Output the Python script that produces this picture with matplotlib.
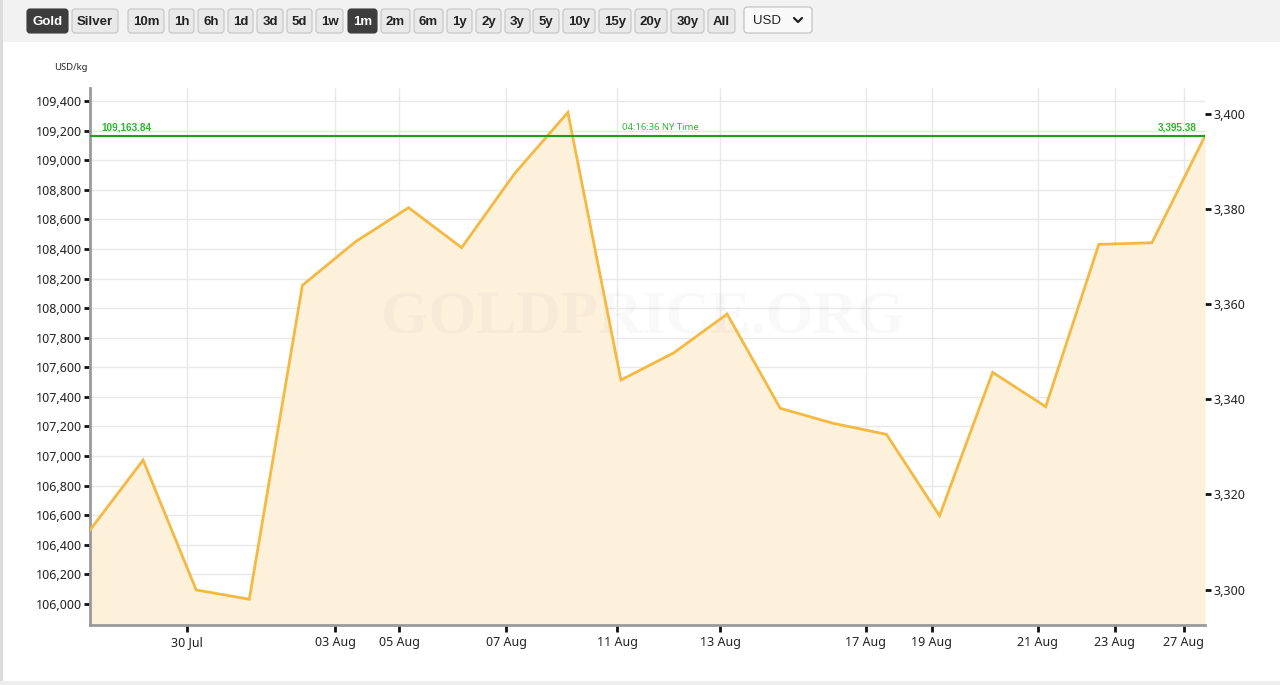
import numpy as np
import matplotlib
matplotlib.use("Agg")
import matplotlib.pyplot as plt
from matplotlib.patches import FancyBboxPatch, Rectangle
from matplotlib.ticker import FuncFormatter, MultipleLocator

# gold price, USD/kg, one point per trading day (evenly spaced on the chart)
prices = [106500, 106973, 106095, 106032, 108154, 108449, 108679, 108409,
          108911, 109323, 107514, 107699, 107960, 107323, 107221, 107147,
          106597, 107566, 107334, 108431, 108442, 109163.84]
tick_labels = ['30 Jul', '03 Aug', '05 Aug', '07 Aug', '11 Aug', '13 Aug',
               '17 Aug', '19 Aug', '21 Aug', '23 Aug', '27 Aug']
tick_pos = [1.83, 4.62, 5.82, 7.84, 9.93, 11.87, 14.61, 15.85, 17.85, 19.30, 20.60]
oz_ticks = [3300, 3320, 3340, 3360, 3380, 3400]
last_kg = 109163.84
last_oz = 3395.38
oz_per_kg = last_kg / last_oz
buttons = ['Gold', 'Silver', '10m', '1h', '6h', '1d', '3d', '5d', '1w', '1m', '2m',
           '6m', '1y', '2y', '3y', '5y', '10y', '15y', '20y', '30y', 'All']
selected = ['Gold', '1m']
btn_x = [(27, 68), (72, 118), (128, 164), (169, 194), (198, 224), (228, 253),
         (257, 283), (287, 312), (316, 343), (348, 377), (381, 410), (414, 443),
         (447, 472), (476, 501), (505, 530), (533, 559), (563, 595), (599, 631),
         (635, 667), (671, 704), (708, 735)]

W, H = 1280, 685
fig = plt.figure(figsize=(W / 100, H / 100), dpi=100)
fig.patch.set_facecolor('white')

# background layer in pixel coords (toolbar, frame)
bg = fig.add_axes([0, 0, 1, 1], zorder=0)
bg.set_xlim(0, W)
bg.set_ylim(H, 0)
bg.axis('off')
bg.add_patch(Rectangle((0, 0), W, 42, facecolor='#f2f2f2', edgecolor='none'))
bg.add_patch(Rectangle((0, 0), 2.5, H, facecolor='#dcdcdc', edgecolor='none'))
bg.add_patch(Rectangle((0, 681), W, 4, facecolor='#eeeeee', edgecolor='none'))

for name, (x0, x1) in zip(buttons, btn_x):
    on = name in selected
    bg.add_patch(FancyBboxPatch((x0, 9), x1 - x0, 24, boxstyle='round,pad=0,rounding_size=3',
                                facecolor='#3d3d3d' if on else '#e9e9e9',
                                edgecolor='#3d3d3d' if on else '#c4c4c4', linewidth=0.8))
    bg.text((x0 + x1) / 2, 21.5, name, ha='center', va='center', fontsize=9.5,
            fontweight='bold', family='Liberation Sans',
            color='white' if on else '#222222')

# currency dropdown
bg.add_patch(FancyBboxPatch((744, 7), 68, 26, boxstyle='round,pad=0,rounding_size=3',
                            facecolor='#f9f9f9', edgecolor='#bdbdbd', linewidth=0.8))
bg.text(753, 20.5, 'USD', ha='left', va='center', fontsize=9.5, family='Liberation Sans',
        color='#222222')
bg.plot([794, 798, 802], [18, 22, 18], color='#222222', lw=1.6, solid_capstyle='round')

bg.text(54, 67, 'USD/kg', ha='left', va='center', fontsize=6.8, family='Noto Sans',
        color='#222222')

# main chart
ax = fig.add_axes([90 / W, 1 - 625 / H, (1205 - 90) / W, (625 - 88) / H], zorder=1)
ax.patch.set_alpha(0)
x = np.arange(len(prices))
ymin, ymax = 105858, 109488
ax.fill_between(x, prices, ymin, color='#fdf1dc', zorder=1, linewidth=0)
ax.plot(x, prices, color='#f5b942', lw=2, zorder=4, solid_joinstyle='miter')
ax.text(0.496, 0.572, 'GOLDPRICE.ORG', transform=ax.transAxes, ha='center', va='center',
        fontsize=44, fontweight='bold', family='Liberation Serif', color='#9a9a9a',
        alpha=0.06, zorder=3)

ax.axhline(last_kg, color='#1ea01e', lw=1.5, zorder=5)
ax.text(0.22, last_kg + 25, '109,163.84', ha='left', va='bottom', fontsize=7.2,
        fontweight='bold', color='#2fb52f', family='Liberation Sans', zorder=6)
ax.text(10.75, last_kg + 25, '04:16:36 NY Time', ha='center', va='bottom', fontsize=6.8,
        color='#2fb52f', family='Noto Sans', zorder=6)
ax.text(20.85, last_kg + 25, '3,395.38', ha='right', va='bottom', fontsize=7.2,
        fontweight='bold', color='#2fb52f', family='Liberation Sans', zorder=6)

ax.set_xlim(0, len(prices) - 1)
ax.set_ylim(ymin, ymax)
ax.yaxis.set_major_locator(MultipleLocator(200))
ax.yaxis.set_major_formatter(FuncFormatter(lambda v, p: f'{v:,.0f}'))
ax.set_xticks(tick_pos)
ax.set_xticklabels(tick_labels)
ax.grid(True, color='#e8e8e8', lw=1, zorder=0)
ax.set_axisbelow(True)
for s in ['top', 'right']:
    ax.spines[s].set_visible(False)
for s in ['left', 'bottom']:
    ax.spines[s].set_color('#9a9a9a')
    ax.spines[s].set_linewidth(2)
ax.tick_params(axis='y', length=4, width=2, color='#111111', pad=2, labelsize=9,
               labelcolor='#222222')
ax.tick_params(axis='x', length=5, width=2, color='#111111', pad=3, labelsize=9,
               labelcolor='#222222')
for lab in ax.get_xticklabels() + ax.get_yticklabels():
    lab.set_family('Noto Sans')

sec = ax.secondary_yaxis('right', functions=(lambda v: v / oz_per_kg, lambda v: v * oz_per_kg))
sec.set_yticks(oz_ticks)
sec.yaxis.set_major_formatter(FuncFormatter(lambda v, p: f'{v:,.0f}'))
sec.spines['right'].set_visible(False)
sec.tick_params(length=4, width=2, color='#111111', pad=2, labelsize=9, labelcolor='#222222')
for lab in sec.get_yticklabels():
    lab.set_family('Noto Sans')

fig.savefig('out.png', dpi=100)
